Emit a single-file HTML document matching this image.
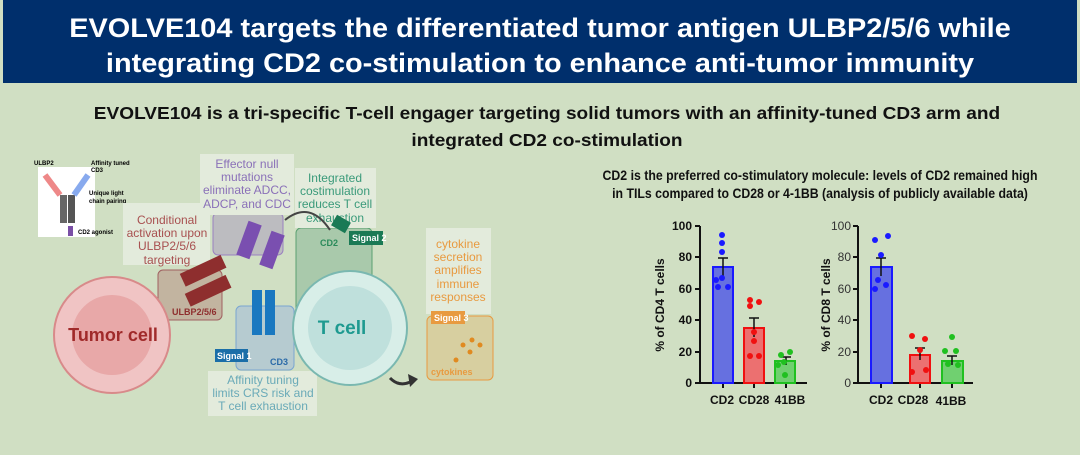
<!DOCTYPE html>
<html><head><meta charset="utf-8"><style>
body{margin:0;width:1080px;height:450px;overflow:hidden;background:#d0dfc3;font-family:"Liberation Sans",sans-serif}
</style></head><body>
<svg width="1080" height="450" xmlns="http://www.w3.org/2000/svg" font-family="Liberation Sans, sans-serif">
<rect width="1080" height="450" fill="#d0dfc3"/>
<rect x="3" y="0" width="1074" height="83" fill="#002f6c"/>
<g fill="#fff" font-weight="bold" font-size="27" text-anchor="middle">
<text x="540" y="37" transform="translate(540 0) scale(1.07 1) translate(-540 0)">EVOLVE104 targets the differentiated tumor antigen ULBP2/5/6 while</text>
<text x="540" y="72" transform="translate(540 0) scale(1.07 1) translate(-540 0)">integrating CD2 co-stimulation to enhance anti-tumor immunity</text>
</g>
<g fill="#111" font-weight="bold" font-size="18" text-anchor="middle">
<text x="547" y="119" transform="translate(547 0) scale(1.06 1) translate(-547 0)">EVOLVE104 is a tri-specific T-cell engager targeting solid tumors with an affinity-tuned CD3 arm and</text>
<text x="547" y="146" transform="translate(547 0) scale(1.06 1) translate(-547 0)">integrated CD2 co-stimulation</text>
</g>
<g fill="#111" font-weight="bold" font-size="14" text-anchor="middle">
<text x="820" y="180" transform="translate(820 0) scale(0.88 1) translate(-820 0)">CD2 is the preferred co-stimulatory molecule: levels of CD2 remained high</text>
<text x="820" y="198" transform="translate(820 0) scale(0.88 1) translate(-820 0)">in TILs compared to CD28 or 4-1BB (analysis of publicly available data)</text>
</g>
<!-- antibody inset -->
<rect x="38" y="167" width="57" height="70" fill="#fff"/>
<text x="34" y="165" font-size="6" font-weight="bold">ULBP2</text>
<text x="91" y="165" font-size="6" font-weight="bold">Affinity tuned</text><text x="91" y="172" font-size="6" font-weight="bold">CD3</text>
<text x="89" y="195" font-size="6" font-weight="bold">Unique light</text><text x="89" y="203" font-size="6" font-weight="bold">chain pairing</text>
<text x="78" y="234" font-size="6" font-weight="bold">CD2 agonist</text>
<rect x="60" y="195" width="7" height="28" fill="#666"/><rect x="68" y="195" width="7" height="28" fill="#555"/>
<path d="M45 175 L60 195" stroke="#e88" stroke-width="6"/><path d="M88 175 L74 195" stroke="#8ae" stroke-width="6"/>
<rect x="68" y="226" width="5" height="10" fill="#7a4fa6"/>
<!-- cell boxes -->
<rect x="296" y="228" width="76" height="110" rx="5" fill="#a9c9ab" stroke="#5aa070"/>
<rect x="236" y="306" width="58" height="64" rx="5" fill="#b6cbd0" stroke="#7aa6d0"/>
<rect x="158" y="270" width="64" height="50" rx="5" fill="#c2b4a0" stroke="#a06060"/>
<rect x="213" y="213" width="70" height="42" rx="5" fill="#bcbcc0" stroke="#9a80c0"/>
<rect x="427" y="316" width="66" height="64" rx="5" fill="#d7cfa0" stroke="#e89a40"/>
<!-- text boxes -->
<rect x="200" y="154" width="94" height="61" fill="#e3ebdc"/>
<rect x="295" y="168" width="81" height="60" fill="#e3ebdc"/>
<rect x="123" y="203" width="87" height="62" fill="#e3ebdc"/>
<rect x="426" y="228" width="65" height="86" fill="#e3ebdc"/>
<rect x="208" y="371" width="109" height="45" fill="#e3ebdc"/>
<g font-size="12" text-anchor="middle">
<g fill="#8a70b8"><text x="247" y="168">Effector null</text><text x="247" y="181">mutations</text><text x="247" y="194">eliminate ADCC,</text><text x="247" y="208">ADCP, and CDC</text></g>
<g fill="#3a9a7a"><text x="335" y="182">Integrated</text><text x="335" y="195">costimulation</text><text x="335" y="208">reduces T cell</text><text x="335" y="222">exhaustion</text></g>
<g fill="#a85050"><text x="167" y="224">Conditional</text><text x="167" y="237">activation upon</text><text x="167" y="250">ULBP2/5/6</text><text x="167" y="264">targeting</text></g>
<g fill="#e89a40"><text x="458" y="248">cytokine</text><text x="458" y="261">secretion</text><text x="458" y="274">amplifies</text><text x="458" y="288">immune</text><text x="458" y="301">responses</text></g>
<g fill="#6aaab8"><text x="263" y="384">Affinity tuning</text><text x="263" y="397">limits CRS risk and</text><text x="263" y="410">T cell exhaustion</text></g>
</g>
<!-- tumor cell -->
<circle cx="112" cy="335" r="58" fill="#f0c4c4" stroke="#d88a8a" stroke-width="2"/>
<circle cx="112" cy="335" r="40" fill="#e8a8a8"/>
<text x="113" y="341" font-size="18" font-weight="bold" fill="#a02a2a" text-anchor="middle">Tumor cell</text>
<!-- T cell -->
<circle cx="350" cy="328" r="57" fill="#d8eee8" stroke="#7ab8b0" stroke-width="2"/>
<circle cx="350" cy="328" r="42" fill="#bfe0dc"/>
<text x="342" y="334" font-size="19" font-weight="bold" fill="#1e9a90" text-anchor="middle">T cell</text>
<!-- TCE -->
<rect x="180" y="265" width="45" height="14" fill="#8e2e2e" transform="rotate(-25 200 270)"/>
<rect x="185" y="285" width="45" height="14" fill="#8e2e2e" transform="rotate(-25 205 290)"/>
<rect x="242" y="222" width="14" height="36" fill="#7a4fb0" transform="rotate(20 249 240)"/>
<rect x="265" y="232" width="14" height="36" fill="#7a4fb0" transform="rotate(20 272 250)"/>
<rect x="252" y="290" width="10" height="45" fill="#1a78c0"/><rect x="265" y="290" width="10" height="45" fill="#1a78c0"/>
<path d="M285 220 Q310 200 330 230" stroke="#444" stroke-width="2" fill="none"/>
<rect x="333" y="218" width="16" height="12" fill="#1a7a55" transform="rotate(30 341 224)"/>
<g font-size="9" font-weight="bold" fill="#fff">
<rect x="349" y="231" width="34" height="14" fill="#1a7a55"/><text x="352" y="241">Signal 2</text>
<rect x="215" y="349" width="33" height="13" fill="#1a6ea8"/><text x="217" y="359">Signal 1</text>
<rect x="431" y="311" width="34" height="13" fill="#e89a40"/><text x="434" y="321">Signal 3</text>
</g>
<g font-size="9" font-weight="bold">
<text x="320" y="246" fill="#2a8a5a">CD2</text>
<text x="270" y="365" fill="#2a6aa8">CD3</text>
<text x="172" y="315" fill="#8e2e2e">ULBP2/5/6</text>
<text x="431" y="375" fill="#e89a40">cytokines</text>
</g>
<g fill="#e08a20"><circle cx="472" cy="340" r="2.5"/><circle cx="463" cy="345" r="2.5"/><circle cx="456" cy="360" r="2.5"/><circle cx="470" cy="352" r="2.5"/><circle cx="480" cy="345" r="2.5"/></g>
<path d="M390 378 Q400 388 412 381" stroke="#333" stroke-width="3" fill="none"/><path d="M408 374 L418 379 L410 387Z" fill="#333"/>
<!-- Chart 1 -->
<g font-weight="bold" fill="#111">
<g stroke="#111" stroke-width="2"><line x1="700" y1="226" x2="700" y2="383"/><line x1="700" y1="383" x2="807" y2="383"/>
<line x1="695" y1="226" x2="700" y2="226"/><line x1="695" y1="257" x2="700" y2="257"/><line x1="695" y1="289" x2="700" y2="289"/><line x1="695" y1="320" x2="700" y2="320"/><line x1="695" y1="352" x2="700" y2="352"/><line x1="695" y1="383" x2="700" y2="383"/>
<line x1="723" y1="383" x2="723" y2="388"/><line x1="754" y1="383" x2="754" y2="388"/><line x1="786" y1="383" x2="786" y2="388"/></g>
<g font-size="12" text-anchor="end"><text x="692" y="230">100</text><text x="692" y="261">80</text><text x="692" y="293">60</text><text x="692" y="324">40</text><text x="692" y="356">20</text><text x="692" y="387">0</text></g>
<text transform="translate(664 305) rotate(-90)" font-size="12" text-anchor="middle">% of CD4 T cells</text>
<g font-size="12" text-anchor="middle"><text x="722" y="404">CD2</text><text x="754" y="404">CD28</text><text x="790" y="404">41BB</text></g>
</g>
<rect x="713" y="267" width="20" height="116" fill="#6670e0" stroke="#1a1aff" stroke-width="2"/>
<rect x="744" y="328" width="20" height="55" fill="#ec7070" stroke="#f01010" stroke-width="2"/>
<rect x="775" y="361" width="20" height="22" fill="#70d070" stroke="#20c020" stroke-width="2"/>
<g stroke="#111" stroke-width="1.5"><line x1="723" y1="258" x2="723" y2="276"/><line x1="718" y1="258" x2="728" y2="258"/><line x1="754" y1="318" x2="754" y2="337"/><line x1="749" y1="318" x2="759" y2="318"/><line x1="786" y1="357" x2="786" y2="365"/><line x1="781" y1="357" x2="791" y2="357"/></g>
<g fill="#1a1aff"><circle cx="722" cy="235" r="3"/><circle cx="722" cy="243" r="3"/><circle cx="722" cy="252" r="3"/><circle cx="718" cy="287" r="3"/><circle cx="728" cy="287" r="3"/><circle cx="722" cy="278" r="3"/><circle cx="716" cy="280" r="3"/></g>
<g fill="#f01010"><circle cx="750" cy="300" r="3"/><circle cx="750" cy="306" r="3"/><circle cx="759" cy="302" r="3"/><circle cx="754" cy="341" r="3"/><circle cx="750" cy="356" r="3"/><circle cx="759" cy="356" r="3"/><circle cx="754" cy="332" r="3"/></g>
<g fill="#20c020"><circle cx="781" cy="355" r="3"/><circle cx="790" cy="352" r="3"/><circle cx="785" cy="375" r="3"/><circle cx="784" cy="362" r="3"/><circle cx="778" cy="365" r="3"/></g>
<!-- Chart 2 -->
<g font-weight="bold" fill="#111">
<g stroke="#111" stroke-width="2"><line x1="858" y1="226" x2="858" y2="383"/><line x1="858" y1="383" x2="973" y2="383"/>
<line x1="853" y1="226" x2="858" y2="226"/><line x1="853" y1="257" x2="858" y2="257"/><line x1="853" y1="289" x2="858" y2="289"/><line x1="853" y1="320" x2="858" y2="320"/><line x1="853" y1="352" x2="858" y2="352"/><line x1="853" y1="383" x2="858" y2="383"/>
<line x1="881" y1="383" x2="881" y2="388"/><line x1="920" y1="383" x2="920" y2="388"/><line x1="952" y1="383" x2="952" y2="388"/></g>
<g font-size="12" text-anchor="end" font-weight="normal" fill="#333"><text x="851" y="230">100</text><text x="851" y="261">80</text><text x="851" y="293">60</text><text x="851" y="324">40</text><text x="851" y="356">20</text><text x="851" y="387">0</text></g>
<text transform="translate(830 305) rotate(-90)" font-size="12" text-anchor="middle">% of CD8 T cells</text>
<g font-size="12" text-anchor="middle"><text x="881" y="404">CD2</text><text x="913" y="404">CD28</text><text x="951" y="405">41BB</text></g>
</g>
<rect x="871" y="267" width="21" height="116" fill="#6670e0" stroke="#1a1aff" stroke-width="2"/>
<rect x="910" y="355" width="20" height="28" fill="#ec7070" stroke="#f01010" stroke-width="2"/>
<rect x="942" y="361" width="21" height="22" fill="#70d070" stroke="#20c020" stroke-width="2"/>
<g stroke="#111" stroke-width="1.5"><line x1="881" y1="258" x2="881" y2="276"/><line x1="876" y1="258" x2="886" y2="258"/><line x1="920" y1="348" x2="920" y2="360"/><line x1="915" y1="348" x2="925" y2="348"/><line x1="952" y1="356" x2="952" y2="365"/><line x1="947" y1="356" x2="957" y2="356"/></g>
<g fill="#1a1aff"><circle cx="875" cy="240" r="3"/><circle cx="888" cy="236" r="3"/><circle cx="881" cy="255" r="3"/><circle cx="875" cy="289" r="3"/><circle cx="886" cy="285" r="3"/><circle cx="878" cy="280" r="3"/></g>
<g fill="#f01010"><circle cx="912" cy="336" r="3"/><circle cx="925" cy="339" r="3"/><circle cx="920" cy="350" r="3"/><circle cx="912" cy="372" r="3"/><circle cx="926" cy="370" r="3"/></g>
<g fill="#20c020"><circle cx="952" cy="337" r="3"/><circle cx="945" cy="351" r="3"/><circle cx="956" cy="351" r="3"/><circle cx="948" cy="364" r="3"/><circle cx="958" cy="365" r="3"/></g>
</svg>
</body></html>
